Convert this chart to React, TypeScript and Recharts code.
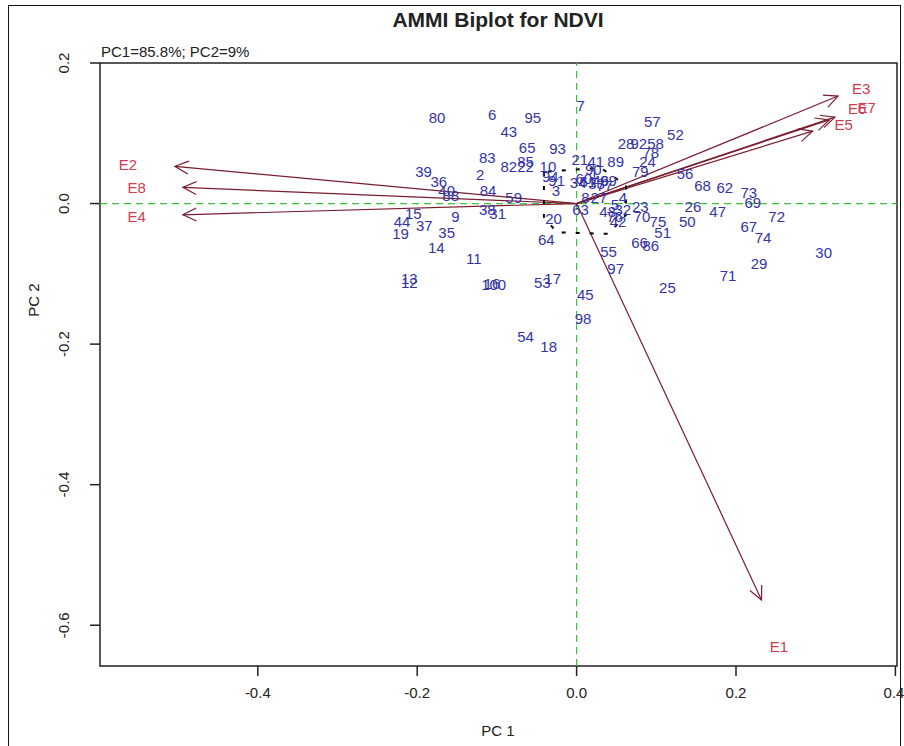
import React from 'react';
import { ScatterChart, Scatter, XAxis, YAxis, ReferenceLine, ReferenceArea } from 'recharts';

// --- genotype scores (labels drawn as text) ---
const genoNames = [
  '80', '6', '95', '43', '7', '65', '93', '83', '82', '85', '22', '10', '21', '41', '89', '24',
  '57', '52', '28', '92', '58', '78', '79', '39', '2', '36', '94', '91', '40', '88', '84', '59',
  '3', '38', '31', '9', '15', '44', '37', '19', '35', '20', '64', '14', '11', '12', '13', '100',
  '16', '53', '17', '45', '98', '54', '18', '55', '97', '66', '86', '51', '75', '70', '50', '26',
  '47', '56', '68', '62', '73', '69', '72', '67', '74', '30', '29', '71', '25', '60', '90', '46',
  '8', '27', '4', '63', '48', '32', '23', '42', '76', '33', '77', '99', '5', '1', '34', '61',
];
const genoPC1 = [
  -0.175, -0.106, -0.055, -0.085, 0.005, -0.062, -0.024, -0.112, -0.085, -0.064, -0.064, -0.036, 0.004, 0.024, 0.049, 0.089,
  0.095, 0.124, 0.062, 0.078, 0.099, 0.093, 0.080, -0.192, -0.121, -0.173, -0.033, -0.025, -0.163, -0.158, -0.111, -0.079,
  -0.026, -0.112, -0.099, -0.152, -0.205, -0.219, -0.191, -0.221, -0.163, -0.029, -0.038, -0.176, -0.129, -0.210, -0.210, -0.104,
  -0.106, -0.043, -0.030, 0.011, 0.008, -0.064, -0.035, 0.040, 0.049, 0.079, 0.093, 0.108, 0.102, 0.082, 0.139, 0.146,
  0.177, 0.136, 0.158, 0.186, 0.216, 0.221, 0.251, 0.216, 0.234, 0.310, 0.229, 0.190, 0.114, 0.009, 0.021, 0.030,
  0.011, 0.028, 0.058, 0.005, 0.039, 0.058, 0.080, 0.052, 0.048, 0.025, 0.035, 0.040, 0.048, 0.022, 0.002, 0.014,
];
const genoPC2 = [
  0.122, 0.126, 0.122, 0.102, 0.140, 0.080, 0.078, 0.065, 0.052, 0.060, 0.052, 0.053, 0.062, 0.060, 0.060, 0.059,
  0.116, 0.098, 0.086, 0.086, 0.086, 0.073, 0.045, 0.045, 0.041, 0.031, 0.039, 0.033, 0.018, 0.012, 0.019, 0.009,
  0.019, -0.009, -0.014, -0.019, -0.014, -0.026, -0.032, -0.043, -0.042, -0.021, -0.051, -0.063, -0.079, -0.112, -0.107, -0.115,
  -0.114, -0.113, -0.107, -0.129, -0.164, -0.189, -0.203, -0.068, -0.092, -0.056, -0.060, -0.042, -0.026, -0.019, -0.026, -0.005,
  -0.012, 0.042, 0.026, 0.022, 0.015, 0.001, -0.019, -0.033, -0.048, -0.070, -0.086, -0.102, -0.119, 0.036, 0.048, 0.033,
  0.009, 0.009, 0.009, -0.008, -0.011, -0.009, -0.005, -0.026, -0.019, 0.028, 0.025, 0.033, -0.002, 0.042, 0.030, 0.031,
];

// --- environment vectors ---
const envNames = ['E1', 'E2', 'E3', 'E4', 'E5', 'E6', 'E7', 'E8'];
const envPC1 = [0.232, -0.504, 0.328, -0.494, 0.296, 0.317, 0.324, -0.494];
const envPC2 = [-0.564, 0.053, 0.153, -0.016, 0.103, 0.119, 0.123, 0.023];
// where the E labels sit
const envLabelPC1 = [0.254, -0.563, 0.357, -0.552, 0.335, 0.352, 0.364, -0.552];
const envLabelPC2 = [-0.631, 0.055, 0.164, -0.019, 0.113, 0.135, 0.137, 0.023];

// dotted outline round the origin
const hullPC1 = [-0.041, -0.041, -0.025, 0.040, 0.062, 0.062, 0.030, -0.041];
const hullPC2 = [0.045, -0.019, -0.041, -0.043, -0.016, 0.026, 0.051, 0.045];

const xTicks = [-0.4, -0.2, 0, 0.2, 0.4];
const yTicks = [-0.6, -0.4, -0.2, 0, 0.2];
const xDomain = [-0.598, 0.402];
const yDomain = [-0.658, 0.2];

const FONT = '"Liberation Sans", Arial, sans-serif';
const BLUE = '#3434a6';
const RED = '#d23a4e';
const ARROW = '#7a1d2e';

const genoData = genoNames.map((name, i) => ({ x: genoPC1[i], y: genoPC2[i], name }));
const envLabelData = envNames.map((name, i) => ({ x: envLabelPC1[i], y: envLabelPC2[i], name }));
const hullData = hullPC1.map((x, i) => ({ x, y: hullPC2[i] }));

const textShape = (color: string) => (props: any) => {
  const { cx, cy, payload } = props;
  return (
    <text x={cx} y={cy} dy="0.36em" textAnchor="middle" fontSize={15} fontFamily={FONT} fill={color}>
      {payload.name}
    </text>
  );
};

// line with an open R-style arrow head
const ArrowLine = (props: any) => {
  const { x1, y1, x2, y2 } = props;
  const ang = Math.atan2(y2 - y1, x2 - x1);
  const len = 15;
  const spread = Math.PI / 7;
  const ax = x2 - len * Math.cos(ang - spread);
  const ay = y2 - len * Math.sin(ang - spread);
  const bx = x2 - len * Math.cos(ang + spread);
  const by = y2 - len * Math.sin(ang + spread);
  return (
    <g>
      <line x1={x1} y1={y1} x2={x2} y2={y2} stroke={ARROW} strokeWidth={1.2} />
      <polyline points={`${ax},${ay} ${x2},${y2} ${bx},${by}`} fill="none" stroke={ARROW} strokeWidth={1.2} />
    </g>
  );
};

const XTick = ({ x, y, payload }: any) => (
  <text x={x} y={y} dy={20} textAnchor="middle" fontSize={15} fontFamily={FONT} fill="#222">
    {payload.value.toFixed(1)}
  </text>
);

const YTick = ({ x, y, payload }: any) => {
  const tx = x - 19;
  return (
    <text x={tx} y={y} transform={`rotate(-90 ${tx} ${y})`} textAnchor="middle" fontSize={15} fontFamily={FONT} fill="#222">
      {payload.value.toFixed(1)}
    </text>
  );
};

export default function App() {
  return (
    <div style={{ position: 'relative', width: 904, height: 746, background: '#fff', overflow: 'hidden', fontFamily: FONT }}>
      <style>{`body{margin:0}`}</style>
      <div style={{ position: 'absolute', left: 8, top: 5, right: 3, bottom: -5, border: '1.5px solid #111' }} />
      <div style={{ position: 'absolute', left: 0, width: 996, top: 8, textAlign: 'center', fontSize: 21, fontWeight: 'bold', color: '#222' }}>
        AMMI Biplot for NDVI
      </div>
      <div style={{ position: 'absolute', left: 101, top: 43, fontSize: 15, color: '#222' }}>PC1=85.8%; PC2=9%</div>
      <div style={{ position: 'absolute', left: 0, width: 996, top: 722, textAlign: 'center', fontSize: 15, color: '#222' }}>PC 1</div>
      <div style={{ position: 'absolute', left: 33, top: 300, transform: 'translate(-50%, -50%) rotate(-90deg)', fontSize: 15, color: '#222', whiteSpace: 'nowrap' }}>
        PC 2
      </div>
      <div style={{ position: 'absolute', left: 0, top: 0 }}>
        <ScatterChart width={904} height={746} margin={{ top: 63, right: 7, bottom: 40, left: 40 }}>
          <XAxis
            type="number"
            dataKey="x"
            domain={xDomain}
            ticks={xTicks}
            allowDataOverflow
            axisLine={false}
            tickSize={10}
            tickLine={{ stroke: '#222', strokeWidth: 1.5 }}
            tick={<XTick />}
            height={40}
          />
          <YAxis
            type="number"
            dataKey="y"
            domain={yDomain}
            ticks={yTicks}
            allowDataOverflow
            axisLine={false}
            tickSize={10}
            tickLine={{ stroke: '#222', strokeWidth: 1.5 }}
            tick={<YTick />}
            width={60}
          />
          <ReferenceArea
            x1={xDomain[0]} x2={xDomain[1]} y1={yDomain[0]} y2={yDomain[1]}
            fill="none" fillOpacity={0} stroke="#222" strokeWidth={1.5} ifOverflow="visible"
          />
          <ReferenceLine x={0} stroke="#3cc43c" strokeDasharray="7 5" strokeWidth={1.2} />
          <ReferenceLine y={0} stroke="#3cc43c" strokeDasharray="7 5" strokeWidth={1.2} />
          <Scatter
            data={hullData}
            line={{ stroke: '#000', strokeWidth: 2, strokeDasharray: '4 10' }}
            shape={() => <g />}
            isAnimationActive={false}
          />
          <Scatter data={genoData} shape={textShape(BLUE)} isAnimationActive={false} />
          <Scatter data={envLabelData} shape={textShape(RED)} isAnimationActive={false} />
          {envNames.map((name, i) => (
            <ReferenceLine
              key={name}
              segment={[{ x: 0, y: 0 }, { x: envPC1[i], y: envPC2[i] }]}
              shape={<ArrowLine />}
              ifOverflow="visible"
            />
          ))}
        </ScatterChart>
      </div>
    </div>
  );
}
